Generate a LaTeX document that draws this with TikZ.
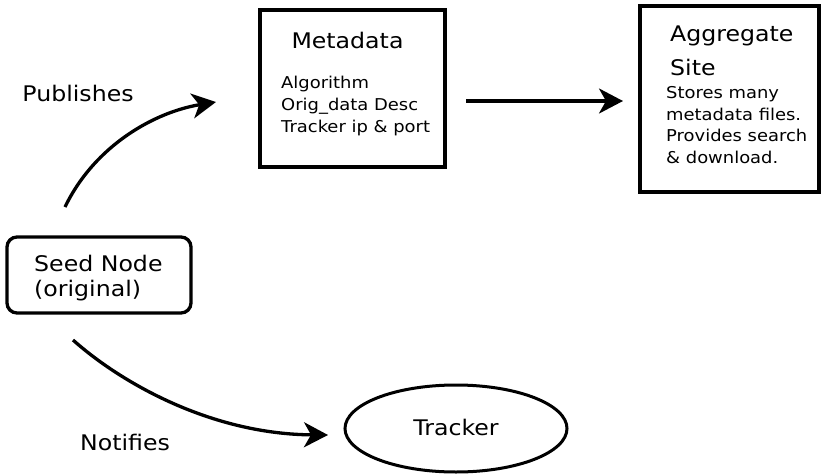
\documentclass[tikz,border=0pt]{standalone}
\usepackage{fontspec}
\setmainfont{DejaVu Sans}[FakeStretch=1.1]
\usetikzlibrary{arrows.meta,shapes.geometric}
\begin{document}
\begin{tikzpicture}[x=1pt,y=-1pt,
  bigtxt/.style={font=\fontsize{21.5}{25}\selectfont,inner sep=0pt},
  smalltxt/.style={font=\fontsize{16.3}{21.8}\selectfont,inner sep=0pt,align=left,anchor=north west},
  conn/.style={line width=3.3pt,-{Stealth[length=24pt,width=25pt,inset=7pt]}}]
\useasboundingbox (0,0) rectangle (822,474);
% boxes
\node[draw,line width=3.3pt,minimum width=185pt,minimum height=157pt,inner sep=0pt] (meta) at (352.5,88.5) {};
\node[draw,line width=3.3pt,minimum width=179pt,minimum height=186pt,inner sep=0pt] (agg) at (729.5,99) {};
\node[draw,line width=3.3pt,rounded corners=10pt,minimum width=184pt,minimum height=76pt,inner sep=0pt] (seed) at (99,275) {};
\node[draw,ellipse,line width=3pt,minimum width=222pt,minimum height=87pt,inner sep=0pt] (tracker) at (456,428.5) {};
% texts
\node[bigtxt] (metat) at (347.5,40) {Metadata};
\node[smalltxt] (metal) at (281,76) {Algorithm\\Orig\_data Desc\\Tracker ip \& port};
\node[bigtxt,anchor=west] (aggt1) at (670,36) {Aggregate};
\node[bigtxt,anchor=west] (aggt2) at (670,67) {Site};
\node[smalltxt] (aggl) at (666,86) {Stores many\\metadata files.\\Provides search\\\& download.};
\node[bigtxt,anchor=west] (seed1) at (34,263) {Seed Node};
\node[bigtxt,anchor=west] (seed2) at (34,291) {(original)};
\node[bigtxt] (trackt) at (456,427) {Tracker};
\node[bigtxt] (pubt) at (78,93) {Publishes};
\node[bigtxt] (nott) at (125,442) {Notifies};
% connectors
\coordinate (pubS) at (65,207);
\coordinate (pubE) at (216,102);
\coordinate (notS) at (73,340);
\coordinate (notE) at (328,435);
\coordinate (mS) at (466,101);
\coordinate (mE) at (623,101);
\draw[conn] (pubS) .. controls (95,145) and (155,112) .. (pubE);
\draw[conn] (notS) .. controls (120,382) and (210,434) .. (notE);
\draw[conn] (mS) -- (mE);
\end{tikzpicture}
\end{document}
